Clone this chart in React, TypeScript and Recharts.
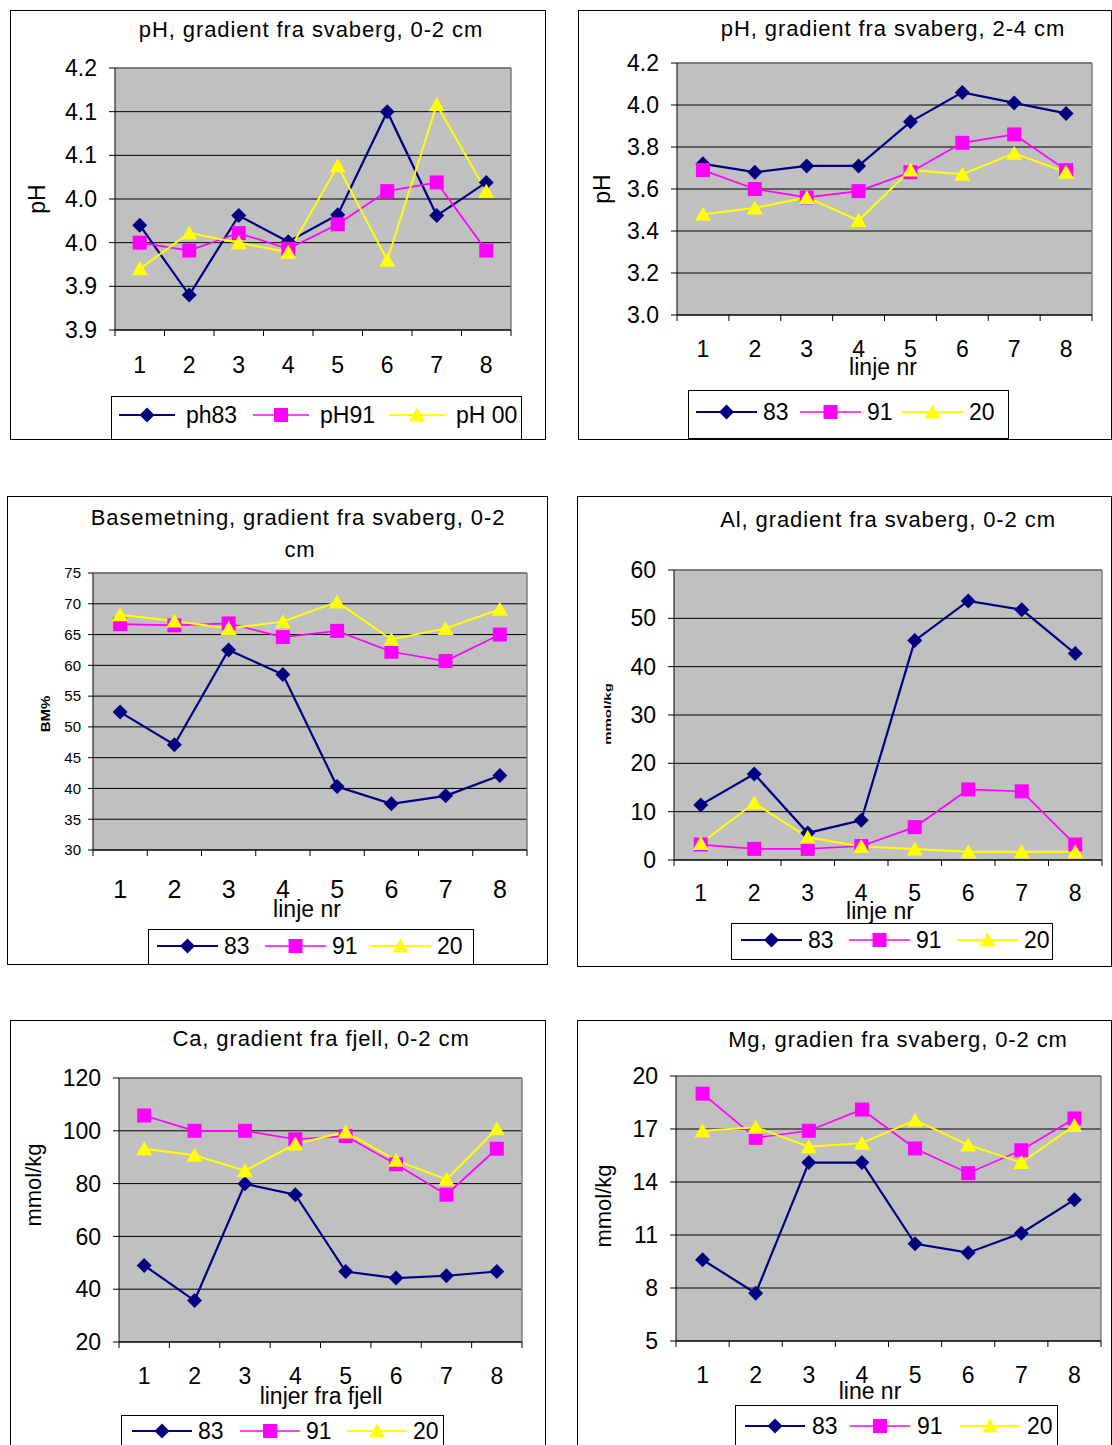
import React from "react";
import { LineChart, Line, XAxis, YAxis, CartesianGrid, ReferenceLine } from "recharts";

const FONT = '"Liberation Sans", Arial, sans-serif';
const NAVY = "#000080";
const MAGENTA = "#FF00FF";
const YELLOW = "#FFFF00";

const linjer = [1, 2, 3, 4, 5, 6, 7, 8];
const xTicks = [0.5, 1, 1.5, 2, 2.5, 3, 3.5, 4, 4.5, 5, 5.5, 6, 6.5, 7, 7.5, 8, 8.5];

// pH 0-2 cm
const ph02_83 = [3.97, 3.89, 3.981, 3.951, 3.982, 4.1, 3.981, 4.019];
const ph02_91 = [3.95, 3.941, 3.961, 3.943, 3.971, 4.009, 4.019, 3.941];
const ph02_00 = [3.92, 3.961, 3.95, 3.939, 4.038, 3.93, 4.108, 4.009];
const ph02Ticks = [3.85, 3.9, 3.95, 4.0, 4.05, 4.1, 4.15];
const ph02Labels = ["3.9", "3.9", "4.0", "4.0", "4.1", "4.1", "4.2"];

// pH 2-4 cm
const ph24_83 = [3.72, 3.68, 3.71, 3.71, 3.92, 4.06, 4.01, 3.96];
const ph24_91 = [3.69, 3.6, 3.56, 3.59, 3.68, 3.82, 3.86, 3.69];
const ph24_20 = [3.48, 3.51, 3.56, 3.45, 3.69, 3.67, 3.77, 3.68];
const ph24Ticks = [3.0, 3.2, 3.4, 3.6, 3.8, 4.0, 4.2];
const ph24Labels = ["3.0", "3.2", "3.4", "3.6", "3.8", "4.0", "4.2"];

// basemetning
const bm83 = [52.4, 47.1, 62.5, 58.5, 40.3, 37.5, 38.8, 42.1];
const bm91 = [66.7, 66.5, 66.8, 64.6, 65.6, 62.2, 60.7, 65.0];
const bm20 = [68.2, 67.2, 66.0, 67.1, 70.3, 64.2, 66.0, 69.1];
const bmTicks = [30, 35, 40, 45, 50, 55, 60, 65, 70, 75];

// Al
const al83 = [11.4, 17.8, 5.6, 8.2, 45.4, 53.6, 51.8, 42.7];
const al91 = [3.2, 2.3, 2.3, 2.9, 6.8, 14.6, 14.2, 3.2];
const al20 = [3.4, 11.8, 4.7, 2.8, 2.3, 1.7, 1.7, 1.7];
const alTicks = [0, 10, 20, 30, 40, 50, 60];

// Ca
const ca83 = [49.0, 35.7, 79.9, 75.8, 46.7, 44.2, 45.1, 46.7];
const ca91 = [105.8, 100.0, 100.0, 96.8, 98.0, 87.3, 75.8, 93.2];
const ca20 = [93.2, 90.7, 84.9, 95.0, 99.5, 88.8, 81.6, 100.8];
const caTicks = [20, 40, 60, 80, 100, 120];

// Mg
const mg83 = [9.6, 7.7, 15.1, 15.1, 10.5, 10.0, 11.1, 13.0];
const mg91 = [19.0, 16.5, 16.9, 18.1, 15.9, 14.5, 15.8, 17.6];
const mg20 = [16.9, 17.1, 16.0, 16.2, 17.5, 16.1, 15.1, 17.2];
const mgTicks = [5, 8, 11, 14, 17, 20];

const namesPh02 = ["ph83", "pH91", "pH 00"];
const namesYear = ["83", "91", "20"];

type Kind = "diamond" | "square" | "triangle";
const kinds: Kind[] = ["diamond", "square", "triangle"];
const colors = [NAVY, MAGENTA, YELLOW];
const widths = [2.2, 1.7, 2];

function Marker({ kind, cx, cy, color }: { kind: Kind; cx: number; cy: number; color: string }) {
  if (kind === "diamond") {
    return <polygon points={`${cx},${cy - 7.5} ${cx + 7.5},${cy} ${cx},${cy + 7.5} ${cx - 7.5},${cy}`} fill={color} />;
  }
  if (kind === "square") {
    return <rect x={cx - 7} y={cy - 7} width={14} height={14} fill={color} />;
  }
  return <polygon points={`${cx},${cy - 7.5} ${cx + 8},${cy + 6.5} ${cx - 8},${cy + 6.5}`} fill={color} />;
}

function Text({ x, y, size, children, rotate, weight, spacing, squash }: any) {
  return (
    <div
      style={{
        position: "absolute",
        left: x,
        top: y,
        transform: `translate(-50%, -50%)${rotate ? " rotate(-90deg)" : ""}${squash ? ` scale(1, ${squash})` : ""}`,
        fontSize: size,
        fontWeight: weight || "normal",
        letterSpacing: spacing || 0,
        lineHeight: 1,
        whiteSpace: "nowrap",
        color: "#000",
      }}
    >
      {children}
    </div>
  );
}

function Legend({ box, names, starts, lineW, gap, textY, size }: any) {
  return (
    <>
      <div
        style={{
          position: "absolute",
          left: box[0],
          top: box[1],
          width: box[2],
          height: box[3],
          border: "1px solid #000",
          boxSizing: "border-box",
          background: "#fff",
        }}
      />
      {names.map((n: string, i: number) => (
        <React.Fragment key={n}>
          <svg style={{ position: "absolute", left: starts[i], top: textY - 9 }} width={lineW} height={18}>
            <line x1={0} y1={9} x2={lineW} y2={9} stroke={colors[i]} strokeWidth={widths[i]} />
            <Marker kind={kinds[i]} cx={lineW / 2} cy={9} color={colors[i]} />
          </svg>
          <div
            style={{
              position: "absolute",
              left: starts[i] + lineW + gap,
              top: textY,
              transform: "translateY(-50%)",
              fontSize: size,
              lineHeight: 1,
              whiteSpace: "nowrap",
            }}
          >
            {n}
          </div>
        </React.Fragment>
      ))}
    </>
  );
}

function Panel({ cfg }: any) {
  const { frame, plot } = cfg;
  const rows = linjer.map((x, i) => ({
    x,
    s0: cfg.values[0][i],
    s1: cfg.values[1][i],
    s2: cfg.values[2][i],
  }));
  const yW = plot.left - frame.x;
  const top = plot.top - frame.y;
  const right = frame.x + frame.w - plot.right;
  const xH = frame.y + frame.h - plot.bottom;
  const ymin = cfg.yTicks[0];
  const ymax = cfg.yTicks[cfg.yTicks.length - 1];

  const xTick = (p: any) => {
    const v = p.payload.value;
    if (Math.abs(v - Math.round(v)) > 0.01) {
      return <line x1={p.x} x2={p.x} y1={p.y} y2={p.y + 6} stroke="#000" />;
    }
    return (
      <text
        x={p.x}
        y={p.y + cfg.xDy}
        textAnchor="middle"
        dominantBaseline="central"
        fontSize={cfg.xFont}
        fontFamily={FONT}
        fill="#000"
      >
        {v}
      </text>
    );
  };

  return (
    <>
      <div
        style={{
          position: "absolute",
          left: frame.x,
          top: frame.y,
          width: frame.w,
          height: frame.h,
          outline: "1px solid #000",
          outlineOffset: -1,
        }}
      >
        <LineChart width={frame.w} height={frame.h} data={rows} margin={{ top, right, left: 0, bottom: 0 }}>
          <CartesianGrid vertical={false} stroke="#000" fill="#C0C0C0" fillOpacity={1} />
          <XAxis
            type="number"
            dataKey="x"
            domain={[0.5, 8.5]}
            ticks={xTicks}
            interval={0}
            height={xH}
            tickSize={0}
            tickMargin={0}
            tickLine={false}
            axisLine={{ stroke: "#000" }}
            tick={xTick}
          />
          <YAxis
            type="number"
            domain={[ymin, ymax]}
            ticks={cfg.yTicks}
            interval={0}
            width={yW}
            tickSize={cfg.yTickSize}
            tickMargin={cfg.yMargin}
            axisLine={{ stroke: "#000" }}
            tickLine={{ stroke: "#000" }}
            tick={{ fill: "#000", fontSize: cfg.yFont, fontFamily: FONT }}
            tickFormatter={(v: number, i: number) => (cfg.yLabels ? cfg.yLabels[i] : String(v))}
            allowDataOverflow
          />
          <ReferenceLine x={8.5} stroke="#808080" strokeWidth={1.5} ifOverflow="visible" />
          <ReferenceLine y={ymax} stroke="#808080" strokeWidth={1.5} ifOverflow="visible" />
          {[0, 1, 2].map((k) => (
            <Line
              key={k}
              type="linear"
              dataKey={`s${k}`}
              stroke={colors[k]}
              strokeWidth={widths[k]}
              isAnimationActive={false}
              activeDot={false}
              dot={(d: any) => (
                <Marker key={`m${k}-${d.index}`} kind={kinds[k]} cx={d.cx} cy={d.cy} color={colors[k]} />
              )}
            />
          ))}
        </LineChart>
      </div>
      {cfg.titles.map((t: any) => (
        <Text key={t[0]} x={t[1]} y={t[2]} size={22} spacing={0.9}>
          {t[0]}
        </Text>
      ))}
      {cfg.yTitle && (
        <Text
          x={cfg.yTitle[1]}
          y={cfg.yTitle[2]}
          size={cfg.yTitle[3]}
          weight={cfg.yTitle[4]}
          squash={cfg.yTitle[5]}
          rotate
        >
          {cfg.yTitle[0]}
        </Text>
      )}
      {cfg.xTitle && (
        <Text x={cfg.xTitle[1]} y={cfg.xTitle[2]} size={23}>
          {cfg.xTitle[0]}
        </Text>
      )}
      <Legend {...cfg.legend} />
    </>
  );
}

const panels = [
  {
    frame: { x: 10, y: 10, w: 536, h: 430 },
    plot: { left: 115, top: 68, right: 511, bottom: 330 },
    values: [ph02_83, ph02_91, ph02_00],
    yTicks: ph02Ticks,
    yLabels: ph02Labels,
    yFont: 23,
    yTickSize: 6,
    yMargin: 12,
    xFont: 23,
    xDy: 35,
    titles: [["pH, gradient fra svaberg, 0-2 cm", 311, 30]],
    yTitle: ["pH", 37, 199, 23, "normal"],
    xTitle: null,
    legend: { box: [111, 396, 411, 44], names: namesPh02, starts: [119, 253, 389], lineW: 56, gap: 11, textY: 415, size: 23 },
  },
  {
    frame: { x: 578, y: 10, w: 534, h: 430 },
    plot: { left: 677, top: 63, right: 1092, bottom: 315 },
    values: [ph24_83, ph24_91, ph24_20],
    yTicks: ph24Ticks,
    yLabels: ph24Labels,
    yFont: 23,
    yTickSize: 6,
    yMargin: 12,
    xFont: 23,
    xDy: 34,
    titles: [["pH, gradient fra svaberg, 2-4 cm", 893, 29]],
    yTitle: ["pH", 602, 189, 23, "normal"],
    xTitle: ["linje nr", 883, 367],
    legend: { box: [688, 390, 321, 49], names: namesYear, starts: [696, 800, 902], lineW: 61, gap: 6, textY: 412, size: 23 },
  },
  {
    frame: { x: 7, y: 496, w: 541, h: 469 },
    plot: { left: 93, top: 573, right: 527, bottom: 850 },
    values: [bm83, bm91, bm20],
    yTicks: bmTicks,
    yLabels: null,
    yFont: 15,
    yTickSize: 5,
    yMargin: 7,
    xFont: 25,
    xDy: 39,
    titles: [
      ["Basemetning, gradient fra svaberg, 0-2", 298, 518],
      ["cm", 300, 550],
    ],
    yTitle: ["BM%", 45, 714, 15, "bold", 0.85],
    xTitle: ["linje nr", 307, 909],
    legend: { box: [148, 929, 326, 36], names: namesYear, starts: [157, 265, 370], lineW: 61, gap: 6, textY: 946, size: 23 },
  },
  {
    frame: { x: 577, y: 496, w: 535, h: 471 },
    plot: { left: 674, top: 570, right: 1102, bottom: 860 },
    values: [al83, al91, al20],
    yTicks: alTicks,
    yLabels: null,
    yFont: 23,
    yTickSize: 6,
    yMargin: 12,
    xFont: 23,
    xDy: 33,
    titles: [["Al, gradient fra svaberg, 0-2 cm", 888, 520]],
    yTitle: ["mmol/kg", 608, 714, 15, "bold", 0.6],
    xTitle: ["linje nr", 880, 911],
    legend: { box: [731, 923, 322, 37], names: namesYear, starts: [741, 849, 957], lineW: 61, gap: 6, textY: 940, size: 23 },
  },
  {
    frame: { x: 10, y: 1020, w: 536, h: 440 },
    plot: { left: 119, top: 1078, right: 522, bottom: 1342 },
    values: [ca83, ca91, ca20],
    yTicks: caTicks,
    yLabels: null,
    yFont: 23,
    yTickSize: 6,
    yMargin: 12,
    xFont: 23,
    xDy: 34,
    titles: [["Ca, gradient fra fjell, 0-2 cm", 321, 1039]],
    yTitle: ["mmol/kg", 34, 1185, 22, "normal"],
    xTitle: ["linjer fra fjell", 321, 1396],
    legend: { box: [121, 1415, 323, 40], names: namesYear, starts: [132, 240, 347], lineW: 60, gap: 6, textY: 1431, size: 23 },
  },
  {
    frame: { x: 577, y: 1020, w: 535, h: 440 },
    plot: { left: 676, top: 1076, right: 1101, bottom: 1341 },
    values: [mg83, mg91, mg20],
    yTicks: mgTicks,
    yLabels: null,
    yFont: 23,
    yTickSize: 6,
    yMargin: 12,
    xFont: 23,
    xDy: 34,
    titles: [["Mg, gradien fra svaberg, 0-2 cm", 898, 1040]],
    yTitle: ["mmol/kg", 604, 1206, 22, "normal"],
    xTitle: ["line nr", 870, 1391],
    legend: { box: [735, 1405, 323, 45], names: namesYear, starts: [745, 850, 960], lineW: 60, gap: 7, textY: 1426, size: 23 },
  },
];

export default function App() {
  return (
    <div
      style={{
        position: "absolute",
        left: 0,
        top: 0,
        width: 1112,
        height: 1445,
        overflow: "hidden",
        background: "#fff",
        fontFamily: FONT,
      }}
    >
      {panels.map((p, i) => (
        <Panel key={i} cfg={p} />
      ))}
    </div>
  );
}
